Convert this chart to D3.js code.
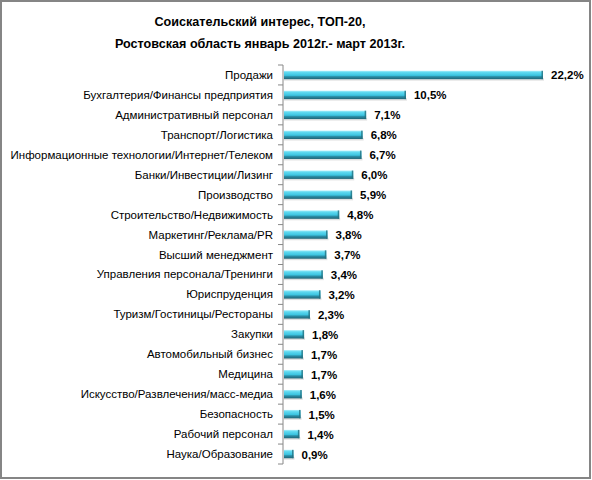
<!DOCTYPE html>
<html><head><meta charset="utf-8">
<script src="https://cdn.jsdelivr.net/npm/d3@7/dist/d3.min.js"></script>
<style>html,body{margin:0;padding:0;background:#fff}</style>
</head><body>
<svg id="c" width="592" height="480"></svg>
<script>
const categories = ["Продажи","Бухгалтерия/Финансы предприятия","Административный персонал","Транспорт/Логистика","Информационные технологии/Интернет/Телеком","Банки/Инвестиции/Лизинг","Производство","Строительство/Недвижимость","Маркетинг/Реклама/PR","Высший менеджмент","Управления персонала/Тренинги","Юриспруденция","Туризм/Гостиницы/Рестораны","Закупки","Автомобильный бизнес","Медицина","Искусство/Развлечения/масс-медиа","Безопасность","Рабочий персонал","Наука/Образование"];
const values = [22.2,10.5,7.1,6.8,6.7,6.0,5.9,4.8,3.8,3.7,3.4,3.2,2.3,1.8,1.7,1.7,1.6,1.5,1.4,0.9];
const titleLines = ["Соискательский интерес, ТОП-20,","Ростовская область январь 2012г.- март 2013г."];

const svg = d3.select("#c");
const font = "'Liberation Sans', Arial, sans-serif";
const defs = svg.append("defs");
const g1 = defs.append("linearGradient").attr("id","bar").attr("x1",0).attr("y1",0).attr("x2",0).attr("y2",1);
[[0,"#a9eefa"],[0.2,"#5fd9f0"],[0.55,"#3cc4e0"],[0.7,"#2b8ea6"],[1,"#1f6476"]].forEach(s=>g1.append("stop").attr("offset",s[0]).attr("stop-color",s[1]));

svg.append("rect").attr("x",1).attr("y",1).attr("width",589).attr("height",477).attr("fill","#fff").attr("stroke","#858585").attr("stroke-width",2);

svg.selectAll("text.title").data(titleLines).join("text").attr("class","title")
  .attr("x",260).attr("y",(d,i)=>26+i*22).attr("text-anchor","middle")
  .attr("font-family",font).attr("font-weight","bold").attr("font-size",12.6).attr("fill","#000").text(d=>d);

const x = d3.scaleLinear().domain([0,22.2]).range([283,543]);
const y = d3.scaleBand().domain(categories).range([65,464]).paddingInner(0.58).paddingOuter(0.29);

const step = y.step();
// axis
const axisG = svg.append("g");
axisG.append("line").attr("x1",283).attr("x2",283).attr("y1",65).attr("y2",464).attr("stroke","#888");
axisG.selectAll("line.tk").data(d3.range(categories.length+1)).join("line").attr("class","tk")
  .attr("x1",278).attr("x2",283).attr("y1",i=>65+i*step).attr("y2",i=>65+i*step).attr("stroke","#888");

// shadows
svg.selectAll("rect.sh").data(values).join("rect").attr("class","sh")
  .attr("x",x(0)+1).attr("y",(d,i)=>y(categories[i])+y.bandwidth()-1)
  .attr("width",d=>x(d)-x(0)).attr("height",2.5).attr("fill","#000").attr("opacity",0.12);
svg.selectAll("rect.bar").data(values).join("rect").attr("class","bar")
  .attr("x",x(0)+1).attr("y",(d,i)=>y(categories[i]))
  .attr("width",d=>x(d)-x(0)-1).attr("height",y.bandwidth()).attr("fill","url(#bar)");
// end caps
svg.selectAll("rect.cap").data(values).join("rect").attr("class","cap")
  .attr("x",d=>x(d)-1.5).attr("y",(d,i)=>y(categories[i]))
  .attr("width",1.5).attr("height",y.bandwidth()).attr("fill","#23707f").attr("opacity",0.8);

svg.selectAll("text.cat").data(categories).join("text").attr("class","cat")
  .attr("x",273).attr("y",d=>y(d)+y.bandwidth()/2+4).attr("text-anchor","end")
  .attr("font-family",font).attr("font-size",11.5).attr("fill","#000").text(d=>d);

svg.selectAll("text.val").data(values).join("text").attr("class","val")
  .attr("x",d=>x(d)+8).attr("y",(d,i)=>y(categories[i])+y.bandwidth()/2+4.5)
  .attr("font-family",font).attr("font-weight","bold").attr("font-size",11.5).attr("fill","#000")
  .text(d=>d.toFixed(1).replace(".",",")+"%");
</script>
</body></html>
